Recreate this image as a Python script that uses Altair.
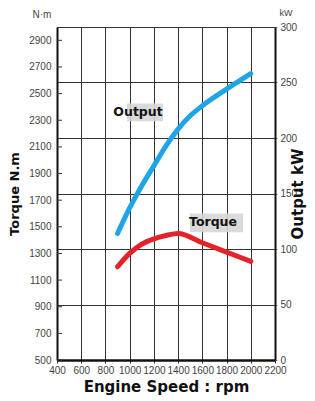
import altair as alt
import pandas as pd

# Data
rpm_out = [900, 1000, 1100, 1200, 1300, 1400, 1500, 1600, 1800, 2000]
output_kw = [114, 137, 157, 175, 193, 208, 220, 229, 244, 258]
rpm_tq = [900, 1000, 1100, 1200, 1300, 1400, 1600, 1800, 2000]
torque_nm = [1200, 1300, 1370, 1410, 1435, 1450, 1380, 1310, 1240]

x_ticks = list(range(400, 2201, 200))
left_ticks = list(range(500, 2901, 200))
right_ticks = list(range(0, 301, 50))

label_text = ["Output", "Torque"]
label_rpm = [1069, 1688]
label_kw = [223, 124]
box_x1 = [978, 1498]
box_x2 = [1275, 1936]
box_y1 = [215, 115]
box_y2 = [231, 132]

df_out = pd.DataFrame({"rpm": rpm_out, "kw": output_kw})
df_tq = pd.DataFrame({"rpm": rpm_tq, "nm": torque_nm})
df_lt = pd.DataFrame({"nm": left_ticks})
df_lab = pd.DataFrame({"t": label_text, "rpm": label_rpm, "kw": label_kw,
                       "bx1": box_x1, "bx2": box_x2, "by1": box_y1, "by2": box_y2})

NARROW = "'Liberation Sans Narrow', 'Liberation Sans', sans-serif"
BOLD = "DejaVu Sans"

xs = alt.Scale(domain=[400, 2200], nice=False)
ys_l = alt.Scale(domain=[500, 3000], nice=False)
ys_r = alt.Scale(domain=[0, 300], nice=False)

x_axis = alt.Axis(values=x_ticks, format="d", labelOverlap=False,
                  title="Engine Speed : rpm", titleFont=BOLD,
                  titleFontSize=15, titleFontWeight="bold", titleColor="#111",
                  labelFont=NARROW, labelFontSize=10, labelColor="#444",
                  grid=True, gridColor="#333", gridWidth=1, domainColor="#111",
                  domainWidth=2.5, tickSize=3, tickColor="#333", labelPadding=2,
                  titlePadding=4, labelFlush=False)

left_axis = alt.Axis(
    values=left_ticks, format="d", labelOverlap=False, title="Torque N.m",
    titleFont=BOLD, titleFontSize=13, titleFontWeight="bold", titleColor="#111",
    labelFont=NARROW, labelFontSize=10, labelColor="#444", grid=False,
    domainColor="#111", domainWidth=2, tickSize=0, labelPadding=6, titlePadding=7)

right_axis = alt.Axis(
    orient="right", values=right_ticks, format="d", labelOverlap=False,
    title="Output kW", titleFont=BOLD, titleFontSize=15, titleFontWeight="bold",
    titleColor="#111", titleAngle=270, labelFont=NARROW, labelFontSize=10,
    labelColor="#444", grid=True, gridColor="#333", gridWidth=1,
    domainColor="#111", domainWidth=2, tickSize=2, labelPadding=3, titlePadding=9)

# Left layer (torque)
tq_line = alt.Chart(df_tq).mark_line(color="#e5222a", strokeWidth=5,
                                     interpolate="monotone", strokeCap="round").encode(
    x=alt.X("rpm:Q", scale=xs, axis=x_axis),
    y=alt.Y("nm:Q", scale=ys_l, axis=left_axis),
)
tq_ticks = alt.Chart(df_lt).mark_rule(color="#333", strokeWidth=1).encode(
    x=alt.value(0), x2=alt.value(5),
    y=alt.Y("nm:Q", scale=ys_l, axis=left_axis),
)
nm_unit = alt.Chart(pd.DataFrame({"t": ["N·m"]})).mark_text(
    font=NARROW, fontSize=10, color="#444", align="center").encode(
    text="t:N", x=alt.value(-15), y=alt.value(-12))
left = alt.layer(tq_line, tq_ticks, nm_unit)

# Right layer (output)
out_line = alt.Chart(df_out).mark_line(color="#1da5e5", strokeWidth=5,
                                       interpolate="monotone", strokeCap="round").encode(
    x=alt.X("rpm:Q", scale=xs, axis=x_axis),
    y=alt.Y("kw:Q", scale=ys_r, axis=right_axis),
)
boxes = alt.Chart(df_lab).mark_rect(color="#d6d6d6", opacity=0.9).encode(
    x=alt.X("bx1:Q", scale=xs, axis=x_axis), x2="bx2:Q",
    y=alt.Y("by1:Q", scale=ys_r, axis=right_axis), y2="by2:Q",
)
texts = alt.Chart(df_lab).mark_text(font=BOLD, fontSize=12.5, fontWeight="bold",
                                    color="#111").encode(
    x=alt.X("rpm:Q", scale=xs, axis=x_axis),
    y=alt.Y("kw:Q", scale=ys_r, axis=right_axis), text="t:N")
kw_unit = alt.Chart(pd.DataFrame({"t": ["kW"]})).mark_text(
    font=NARROW, fontSize=9, color="#444", align="center").encode(
    text="t:N", x=alt.value(229), y=alt.value(-14))
right = alt.layer(out_line, boxes, texts, kw_unit)

chart = alt.layer(left, right).resolve_scale(y="independent").properties(
    width=218, height=333,
    autosize=alt.AutoSizeParams(type="none"),
    padding={"left": 49, "top": 19, "right": 32, "bottom": 38},
).configure_view(stroke="#111", strokeWidth=1).configure(background="white")

chart.save("out.html", embed_options={"renderer": "svg", "actions": False})
